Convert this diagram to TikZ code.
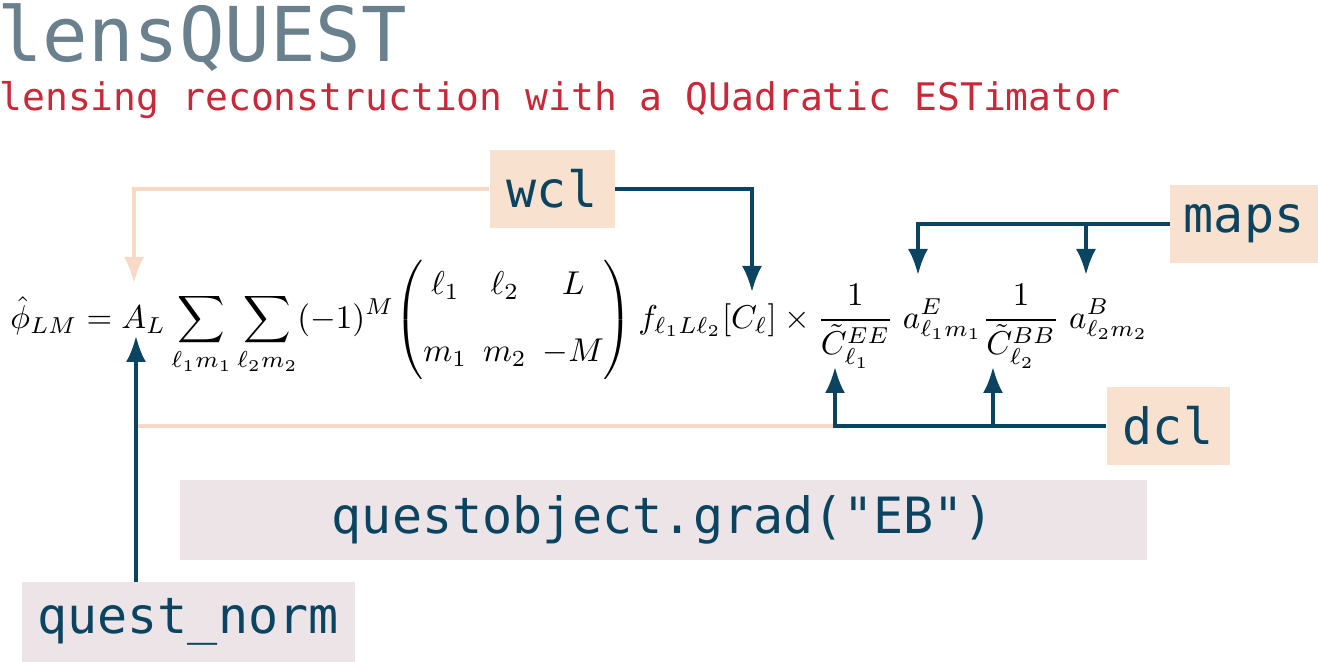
\documentclass[tikz,border=0pt]{standalone}
\usepackage{amsmath}
\usepackage{graphicx}
\usepackage{fontspec}
\usetikzlibrary{arrows.meta}
\newfontfamily\codefont{DejaVu Sans Mono}
\definecolor{questblue}{RGB}{11,68,96}
\definecolor{questpeach}{RGB}{249,225,207}
\definecolor{questpeachline}{RGB}{248,218,196}
\definecolor{questmauve}{RGB}{237,228,231}
\definecolor{questgrey}{RGB}{106,128,140}
\definecolor{questred}{RGB}{200,40,56}
\setlength{\arraycolsep}{2.4pt}

\begin{document}
\begin{tikzpicture}[x=0.5pt,y=-0.5pt]

    \tikzset{
      codebox/.style={
        text=questblue,
        font=\codefont\fontsize{25}{30}\selectfont,
        inner sep=0pt,
        minimum height=39pt,
      },
      inbox/.style={codebox, fill=questpeach},
      callbox/.style={codebox, fill=questmauve},
      feed/.style={
        color=questblue,
        line width=1.7pt,
        -{Latex[length=13pt,width=10pt]},
      },
      weak/.style={
        color=questpeachline,
        line width=1.7pt,
      },
    }

	\useasboundingbox (0,0) rectangle (1318,662);

	\node[anchor=base west, inner sep=0pt, text=questgrey, font=\codefont\fontsize{37.8}{40}\selectfont] (title) at (-3,62) {lensQUEST};
	\node[anchor=base west, inner sep=0pt, text=questred, font=\codefont\fontsize{19}{22}\selectfont] (subtitle) at (-1,111) {lensing reconstruction with a QUadratic ESTimator};

	\node[anchor=west, inner sep=0pt] (eq) at (10,320) {\scalebox{1.65}{$\displaystyle
	  \hat{\phi}_{LM} = A_L \sum_{\ell_1 m_1}\sum_{\ell_2 m_2} (-1)^M \mkern-3mu
	  \left(\rule[-15.5pt]{0pt}{36pt}\begin{matrix} \ell_1 & \ell_2 & L \\[1.9ex] m_1 & m_2 & -M \end{matrix}\right)
	  f_{\ell_1 L \ell_2}[C_\ell] \times \frac{1}{\tilde{C}^{EE}_{\ell_1}}\; a^E_{\ell_1 m_1}
	  \frac{1}{\tilde{C}^{BB}_{\ell_2}}\; a^B_{\ell_2 m_2}$}};

	\node[inbox, minimum width=62.5pt] (wcl) at (552,189) {wcl};
	\node[inbox, minimum width=74pt] (maps) at (1244,224) {maps};
	\node[inbox, minimum width=61.5pt] (dcl) at (1168,426) {dcl};
	\node[callbox, minimum width=483.5pt, minimum height=40pt] (grad) at (663,520) {questobject.grad("EB")};
	\node[callbox, minimum width=166.5pt, minimum height=40pt] (norm) at (188,622) {quest\_norm};

	\coordinate (tipAL) at (134,283);
	\coordinate (tipNorm) at (136,336);
	\coordinate (tipC) at (752,292);
	\coordinate (tipaE) at (918,275);
	\coordinate (tipaB) at (1086,275);
	\coordinate (tipCE) at (835,367);
	\coordinate (tipCB) at (993,367);

	\draw[weak, -{Latex[length=13pt,width=10pt]}] (wcl.west) -| (tipAL);
	\draw[feed] (wcl.east) -| (tipC);
	\draw[feed] (maps.west) -| (tipaE);
	\draw[feed] (maps.west -| tipaB) -- (tipaB);
	\draw[weak] (tipCE |- dcl.west) -- (tipNorm |- dcl.west);
	\draw[feed] (dcl.west) -| (tipCE);
	\draw[feed] (dcl.west -| tipCB) -- (tipCB);
	\draw[feed] (tipNorm |- norm.north) -- (tipNorm);

\end{tikzpicture}
\end{document}
